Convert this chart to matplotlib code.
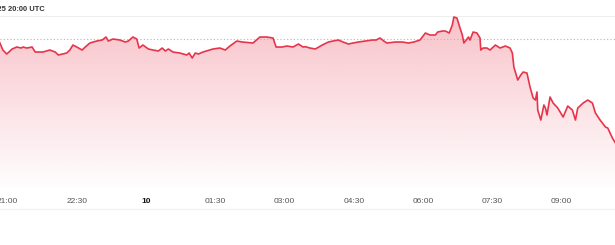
import numpy as np
import matplotlib
matplotlib.use("Agg")
import matplotlib.pyplot as plt
import matplotlib.dates as mdates
from matplotlib.lines import Line2D
from datetime import datetime, timedelta

# minutes after 2025-03-09 21:00 UTC
minutes = [-10, -6, -1, 6, 12, 18, 20, 25, 32, 36, 46, 55, 62, 66, 77, 81, 85, 90, 97, 101,
           107, 116, 123, 128, 131, 137, 146, 153, 157, 163, 168, 171, 176, 183, 189, 196, 201, 205, 209, 215,
           224, 233, 236, 240, 244, 248, 254, 267, 276, 283, 289, 298, 305, 319, 328, 337, 345, 349, 357, 363,
           371, 378, 384, 387, 393, 400, 409, 417, 423, 430, 436, 443, 449, 456, 465, 474, 479, 484, 489, 493,
           504, 513, 521, 528, 536, 540, 543, 549, 556, 559, 565, 569, 574, 578, 580, 584, 588, 591, 593, 599,
           601, 605, 610, 614, 615, 618, 623, 627, 634, 640, 647, 653, 656, 658, 663, 667, 670, 675, 679, 683,
           686, 688, 689, 693, 697, 699, 701, 705, 709, 715, 722, 728, 734, 738, 741, 748, 754, 760, 764, 770,
           777, 780, 786, 790]
prices = [82414, 82232, 82132, 82257, 82307, 82282, 82307, 82282, 82307, 82182, 82182, 82232, 82182, 82107, 82157, 82232, 82357, 82307, 82232, 82307,
          82407, 82457, 82482, 82557, 82457, 82507, 82482, 82432, 82457, 82557, 82507, 82282, 82357, 82257, 82232, 82207, 82282, 82207, 82257, 82182,
          82157, 82107, 82157, 82032, 82157, 82132, 82182, 82257, 82282, 82232, 82332, 82457, 82432, 82407, 82557, 82557, 82532, 82307, 82307, 82332,
          82307, 82382, 82307, 82315, 82282, 82257, 82357, 82432, 82457, 82482, 82432, 82382, 82407, 82432, 82457, 82482, 82482, 82532, 82457, 82407,
          82432, 82432, 82407, 82432, 82482, 82582, 82657, 82607, 82607, 82682, 82707, 82707, 82657, 82857, 83057, 83032, 82782, 82607, 82407, 82557,
          82482, 82682, 82657, 82532, 82232, 82282, 82282, 82232, 82357, 82282, 82332, 82282, 82157, 81807, 81482, 81607, 81682, 81657, 81307, 81032,
          80982, 81182, 80732, 80482, 80857, 80782, 80607, 81057, 80907, 80782, 80557, 80832, 80732, 80482, 80782, 80907, 80982, 80907, 80657, 80482,
          80307, 80282, 80032, 79907]
reference_price = 82500
tick_labels = ["21:00", "22:30", "10", "01:30", "03:00", "04:30", "06:00", "07:30", "09:00"]
tick_minutes = [0, 90, 180, 270, 360, 450, 540, 630, 720]
header = "Mar 9, 2025 20:00 UTC"

base = datetime(2025, 3, 9, 21, 0)
t = mdates.date2num([base + timedelta(minutes=m) for m in minutes])
tt = mdates.date2num([base + timedelta(minutes=m) for m in tick_minutes])
v = np.array(prices, dtype=float)

W, H = 615, 245
fig = plt.figure(figsize=(W / 100, H / 100), dpi=100)
plt.rcParams['font.family'] = ['Liberation Sans', 'DejaVu Sans']
ax_top, ax_bot = 16, 192
ax = fig.add_axes([0, (H - ax_bot) / H, 1, (ax_bot - ax_top) / H])
for s in ax.spines.values():
    s.set_visible(False)

xmin = mdates.date2num(base + timedelta(minutes=-9.75))
xmax = mdates.date2num(base + timedelta(minutes=789.4))
ymax, ymin = 83082.5, 78682.5

red = '#e8344b'
# gradient fill
poly = ax.fill_between(t, v, ymin, color='none', lw=0)
path = poly.get_paths()[0]
n = 256
grad = np.zeros((n, 1, 4))
from matplotlib.colors import to_rgb
r, g, b = to_rgb(red)
grad[:, 0, 0] = r
grad[:, 0, 1] = g
grad[:, 0, 2] = b
grad[:, 0, 3] = np.linspace(0.0, 0.30, n)
im = ax.imshow(grad, extent=[xmin, xmax, ymin, ymax], aspect='auto', origin='lower', zorder=1)
im.set_clip_path(path, transform=ax.transData)

ax.plot(t, v, color=red, lw=1.2, zorder=3, solid_joinstyle='round')
ax.axhline(reference_price, color='#b5b5b5', lw=0.8, ls=(0, (1, 2)), zorder=2)
ax.axhline(ymax, color='#eeeeee', lw=0.8, zorder=0, clip_on=False)

ax.set_xlim(xmin, xmax)
ax.set_ylim(ymin, ymax)
ax.set_yticks([])
ax.set_xticks(tt)
ax.set_xticklabels(tick_labels)
ax.tick_params(axis='x', length=0, pad=4, labelsize=6, labelcolor='#555555')
for lab in ax.get_xticklabels():
    if lab.get_text() == "10":
        lab.set_fontweight('bold')
        lab.set_color('#111111')

fig.add_artist(Line2D([0, 1], [1 - 209 / H, 1 - 209 / H], color='#f2f2f2', lw=1, transform=fig.transFigure))
fig.text(45 / W, 1 - 9.5 / H, header, ha='right', va='center', fontsize=5.4, fontweight='bold', color='#333333')

fig.savefig('out.png', dpi=100)
